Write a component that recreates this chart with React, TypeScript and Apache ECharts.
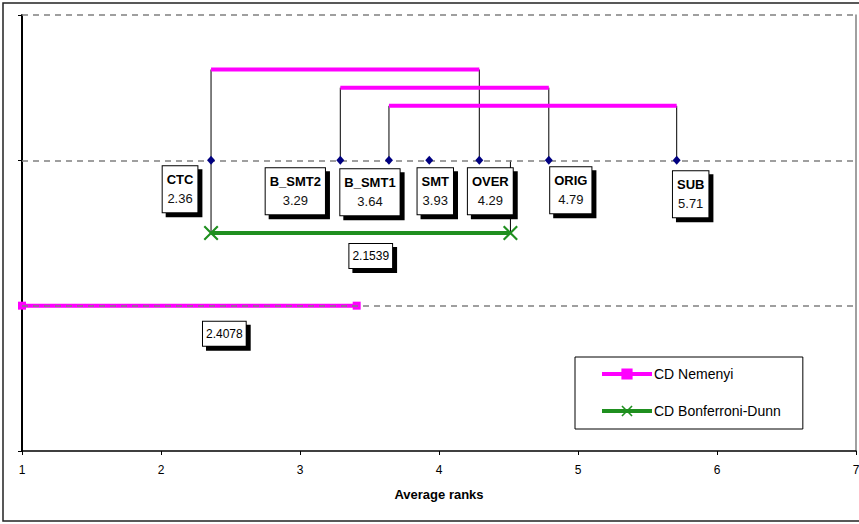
import React, { useEffect, useRef } from "react";
import * as echarts from "echarts";

// ---- data ----
const methods = ["CTC", "B_SMT2", "B_SMT1", "SMT", "OVER", "ORIG", "SUB"];
const avgRanks = [2.36, 3.29, 3.64, 3.93, 4.29, 4.79, 5.71];
const rankLevel = 2;

const cliqueFrom = [2.36, 3.29, 3.64];
const cliqueTo = [4.29, 4.79, 5.71];
const cliqueLevel = [2.625, 2.5, 2.375];

const cdNemenyi = 2.4078;
const cdNemenyiStart = 1;
const cdNemenyiLevel = 1;
const cdBonferroni = 2.1539;
const cdBonferroniStart = 2.36;
const cdBonferroniLevel = 1.5;

const xTicks = [1, 2, 3, 4, 5, 6, 7];
const yTicks = [0, 1, 2, 3];
const gridLevels = [1, 2, 3];

// ---- styles (label offsets in px, not data) ----
const labelOffsets = [
  [-31, 29],
  [-45, 31],
  [-19, 32],
  [6, 31],
  [11, 31],
  [22, 30],
  [14, 34],
];
const cdLabelOffsets = [
  [35, 28],
  [10, 23],
];
const FONT = "Liberation Sans, Arial, sans-serif";
const MAGENTA = "#ff00ff";
const GREEN = "#1f8f1f";
const CROSS = "path://M0,1L1,0L5,4L9,0L10,1L6,5L10,9L9,10L5,6L1,10L0,9L4,5Z";

const boxStyle = {
  backgroundColor: "#fff",
  borderColor: "#000",
  borderWidth: 1,
  shadowColor: "#000",
  shadowOffsetX: 4,
  shadowOffsetY: 4,
  shadowBlur: 0,
  opacity: 1,
};

function seg(x1: number, y1: number, x2: number, y2: number, color: string, width: number, z: number) {
  return {
    type: "line",
    data: [
      [x1, y1],
      [x2, y2],
    ],
    symbol: "none",
    lineStyle: { color, width },
    z,
    silent: true,
  };
}

export default function App() {
  const ref = useRef<HTMLDivElement>(null);

  useEffect(() => {
    if (!ref.current) return;
    const chart = echarts.init(ref.current, undefined, { renderer: "svg" });

    const series: any[] = [];

    // dashed horizontal gridlines
    series.push({
      type: "line",
      data: [],
      silent: true,
      z: 1,
      markLine: {
        silent: true,
        symbol: "none",
        label: { show: false },
        lineStyle: { color: "#808080", width: 1.5, type: [6, 5] },
        data: gridLevels.map((v) => ({ yAxis: v })),
      },
    });

    cliqueFrom.forEach((f, i) => {
      series.push(seg(f, rankLevel, f, cliqueLevel[i], "#000", 1, 2));
      series.push(seg(cliqueTo[i], rankLevel, cliqueTo[i], cliqueLevel[i], "#000", 1, 2));
    });
    series.push(seg(cdBonferroniStart, rankLevel, cdBonferroniStart, cdBonferroniLevel, "#000", 1, 2));
    series.push(
      seg(cdBonferroniStart + cdBonferroni, rankLevel, cdBonferroniStart + cdBonferroni, cdBonferroniLevel, "#000", 1, 2)
    );
    cliqueFrom.forEach((f, i) => {
      series.push(seg(f, cliqueLevel[i], cliqueTo[i], cliqueLevel[i], MAGENTA, 4, 3));
    });

    series.push({
      name: "CD Nemenyi",
      type: "line",
      data: [
        [cdNemenyiStart, cdNemenyiLevel],
        [cdNemenyiStart + cdNemenyi, cdNemenyiLevel],
      ],
      symbol: "rect",
      symbolSize: 8,
      showAllSymbol: true,
      itemStyle: { color: MAGENTA },
      lineStyle: { color: MAGENTA, width: 4 },
      z: 4,
    });
    series.push({
      name: "CD Bonferroni-Dunn",
      type: "line",
      data: [
        [cdBonferroniStart, cdBonferroniLevel],
        [cdBonferroniStart + cdBonferroni, cdBonferroniLevel],
      ],
      symbol: CROSS,
      symbolSize: 15,
      showAllSymbol: true,
      itemStyle: { color: GREEN },
      lineStyle: { color: GREEN, width: 4 },
      z: 4,
    });

    // ranks with boxed labels
    series.push({
      type: "scatter",
      symbol: "diamond",
      symbolSize: [8, 9],
      itemStyle: { color: "#000080", opacity: 1 },
      z: 6,
      silent: true,
      data: methods.map((m, i) => ({
        name: m,
        value: [avgRanks[i], rankLevel],
        label: { offset: labelOffsets[i] },
      })),
      label: {
        show: true,
        position: "inside",
        align: "center",
        verticalAlign: "middle",
        ...boxStyle,
        color: "#000",
        padding: [4, 4, 4, 4],
        formatter: (p: any) => `{n|${p.name}}\n{v|${avgRanks[p.dataIndex].toFixed(2)}}`,
        rich: {
          n: { fontWeight: "bold", fontSize: 13, lineHeight: 19, color: "#000", fontFamily: FONT },
          v: { fontSize: 13, lineHeight: 19, color: "#111", fontFamily: FONT },
        },
      },
    });

    // CD value annotations
    const cdVals = [cdNemenyi, cdBonferroni];
    const cdX = [cdNemenyiStart + cdNemenyi / 2, cdBonferroniStart + cdBonferroni / 2];
    const cdY = [cdNemenyiLevel, cdBonferroniLevel];
    series.push({
      type: "scatter",
      symbol: "circle",
      symbolSize: 0.1,
      itemStyle: { color: "transparent", opacity: 1 },
      silent: true,
      z: 8,
      data: cdVals.map((v, i) => ({
        value: [cdX[i], cdY[i], v],
        label: { offset: cdLabelOffsets[i] },
      })),
      label: {
        show: true,
        position: "inside",
        align: "center",
        verticalAlign: "middle",
        ...boxStyle,
        color: "#000",
        fontFamily: FONT,
        fontSize: 12,
        lineHeight: 14,
        padding: [5, 3, 5, 3],
        formatter: (p: any) => String(p.value[2]),
      },
    });

    chart.setOption({
      animation: false,
      backgroundColor: "#fff",
      textStyle: { fontFamily: FONT },
      graphic: [
        {
          type: "rect",
          shape: { x: 3, y: 3, width: 900, height: 518 },
          style: { fill: "none", stroke: "#222", lineWidth: 1.5 },
          silent: true,
          z: -1,
        },
      ],
      grid: { left: 22, right: 3, top: 15, bottom: 73, containLabel: false, outerBoundsMode: "none" },
      legend: {
        data: ["CD Nemenyi", "CD Bonferroni-Dunn"],
        orient: "vertical",
        left: 575,
        top: 357,
        padding: [10, 22, 11, 25],
        itemWidth: 50,
        itemHeight: 14,
        itemGap: 23,
        borderColor: "#000",
        borderWidth: 1,
        backgroundColor: "#fff",
        selectedMode: false,
        lineStyle: { width: 4 },
        textStyle: { fontSize: 14, color: "#000", fontFamily: FONT, padding: [0, 0, 0, -3] },
      },
      xAxis: {
        type: "value",
        z: 5,
        min: xTicks[0],
        max: xTicks[xTicks.length - 1],
        interval: 1,
        name: "Average ranks",
        nameLocation: "middle",
        nameGap: 37,
        nameTextStyle: { fontWeight: "bold", fontSize: 13, color: "#000", fontFamily: FONT },
        axisLine: { show: true, onZero: false, lineStyle: { color: "#000", width: 1.5 } },
        axisTick: { show: true, length: 4, lineStyle: { color: "#000" } },
        axisLabel: { fontSize: 12, color: "#000", margin: 13, fontFamily: FONT },
        splitLine: { show: false },
      },
      yAxis: [
        {
          type: "value",
          min: yTicks[0],
          max: yTicks[yTicks.length - 1],
          interval: 1,
          axisLine: { show: true, lineStyle: { color: "#000", width: 2 } },
          axisTick: { show: true, length: 4, lineStyle: { color: "#000" } },
          axisLabel: { show: false },
          splitLine: { show: false },
        },
        {
          type: "value",
          position: "right",
          min: yTicks[0],
          max: yTicks[yTicks.length - 1],
          interval: 1,
          axisLine: { show: true, lineStyle: { color: "#808080", width: 1.5 } },
          axisTick: { show: false },
          axisLabel: { show: false },
          splitLine: { show: false },
        },
      ],
      series,
    });

    return () => chart.dispose();
  }, []);

  return (
    <div
      ref={ref}
      style={{ position: "absolute", left: 0, top: 0, width: 859, height: 524, background: "#fff" }}
    />
  );
}
